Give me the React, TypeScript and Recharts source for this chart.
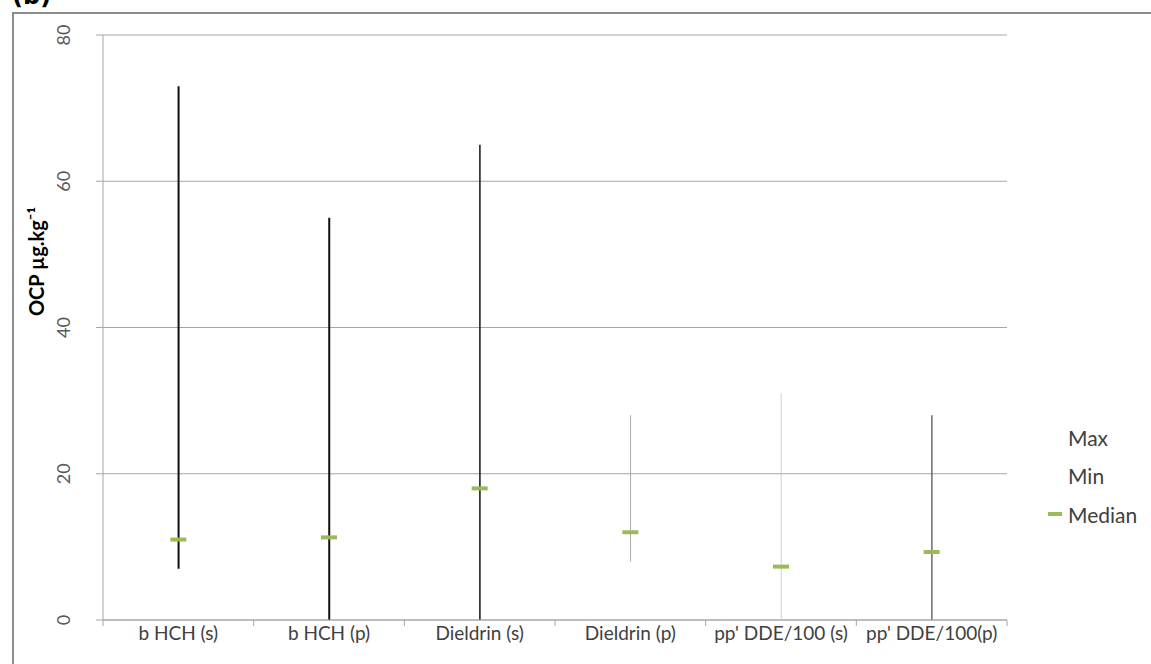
import React from "react"
import {
  Bar,
  CartesianGrid,
  ComposedChart,
  Legend,
  Line,
  XAxis,
  YAxis,
} from "recharts"

const categories = [
  "b HCH (s)",
  "b HCH (p)",
  "Dieldrin (s)",
  "Dieldrin (p)",
  "pp' DDE/100 (s)",
  "pp' DDE/100(p)",
]
const maxValues = [73, 55, 65, 28, 31, 28]
const minValues = [7, 0, 0, 8, 0, 0]
const medianValues = [11, 11.3, 18, 12, 7.3, 9.3]
const yTicks = [0, 20, 40, 60, 80]
const legendNames = ["Max", "Min", "Median"]

// the range lines in the picture are not all drawn the same
const lineColors = ["#111", "#111", "#222", "#aaa", "#cfcfcf", "#555"]
const lineWidths = [2, 2, 1.6, 1, 1, 1.3]

const data = categories.map((name, i) => ({
  name,
  max: maxValues[i],
  min: minValues[i],
  median: medianValues[i],
}))

const FONT = "Lato, 'Open Sans', sans-serif"
const GREEN = "#9bbb59"
const AXIS = "#a6a6a6"

const W = 1151
const H = 664
const margin = { top: 35, right: 144, bottom: 14, left: 43 }
const yAxisWidth = 60
const band = (W - margin.left - margin.right - yAxisWidth) / categories.length

function RangeLine(props: any) {
  const { x, y, width, height, index } = props
  const cx = x + width / 2
  return (
    <line
      x1={cx}
      x2={cx}
      y1={y}
      y2={y + height}
      stroke={lineColors[index]}
      strokeWidth={lineWidths[index]}
    />
  )
}

function MedianDash(props: any) {
  const { cx, cy, index } = props
  if (cx == null || cy == null) return null
  return <rect key={index} x={cx - 8} y={cy - 2} width={16} height={4} fill={GREEN} />
}

function YTick(props: any) {
  const { y, payload } = props
  return (
    <text
      x={0}
      y={0}
      transform={`translate(63,${y}) rotate(-90)`}
      textAnchor="middle"
      dominantBaseline="central"
      fill="#595959"
      fontSize={18}
      fontFamily={FONT}
    >
      {payload.value}
    </text>
  )
}

// ticks sit between categories, like Excel does it
function XTick(props: any) {
  const { x, payload, index } = props
  const axisY = H - margin.bottom - 30
  const last = index === categories.length - 1
  return (
    <g>
      <line x1={x - band / 2} x2={x - band / 2} y1={axisY} y2={axisY + 6} stroke={AXIS} />
      {last && (
        <line x1={x + band / 2} x2={x + band / 2} y1={axisY} y2={axisY + 6} stroke={AXIS} />
      )}
      <text
        x={x}
        y={axisY + 20}
        textAnchor="middle"
        fill="#404040"
        fontSize={19}
        fontFamily={FONT}
      >
        {payload.value}
      </text>
    </g>
  )
}

function LegendBox() {
  return (
    <div style={{ fontFamily: FONT, fontSize: 21, color: "#404040" }}>
      {legendNames.map((n) => (
        <div key={n} style={{ height: 38.5, display: "flex", alignItems: "center" }}>
          <span
            style={{
              display: "inline-block",
              width: 14,
              height: 4,
              marginRight: 6,
              background: n === "Median" ? GREEN : "transparent",
            }}
          />
          {n}
        </div>
      ))}
    </div>
  )
}

export default function App() {
  return (
    <div
      style={{
        position: "absolute",
        left: 0,
        top: 0,
        width: W,
        height: H,
        overflow: "hidden",
        background: "#fff",
      }}
    >
      <div
        style={{
          position: "absolute",
          left: 12,
          top: 12,
          width: 1200,
          height: 700,
          borderLeft: "2px solid #8c8c8c",
          borderTop: "2px solid #8c8c8c",
        }}
      />
      <div
        style={{
          position: "absolute",
          left: 12,
          top: -18,
          fontFamily: "'DejaVu Sans', sans-serif",
          fontWeight: "bold",
          fontSize: 24,
          color: "#000",
        }}
      >
        (b)
      </div>
      <div style={{ position: "absolute", left: 0, top: 0 }}>
        <ComposedChart width={W} height={H} data={data} margin={margin}>
          <CartesianGrid vertical={false} stroke={AXIS} />
          <XAxis
            dataKey="name"
            height={30}
            stroke={AXIS}
            tickLine={false}
            tick={<XTick />}
            interval={0}
          />
          <YAxis
            domain={[0, 80]}
            ticks={yTicks}
            width={yAxisWidth}
            stroke={AXIS}
            tickSize={7}
            tick={<YTick />}
            label={{
              value: "OCP µg.kg⁻¹",
              angle: -90,
              position: "insideLeft",
              offset: -6,
              dy: -66,
              style: {
                fontFamily: FONT,
                fontWeight: "bold",
                fontSize: 20,
                fill: "#000",
                textAnchor: "middle",
              },
            }}
          />
          <Bar
            dataKey={(d: any) => [d.min, d.max]}
            shape={<RangeLine />}
            isAnimationActive={false}
            legendType="none"
          />
          <Line
            dataKey="median"
            stroke="none"
            dot={<MedianDash />}
            activeDot={false}
            isAnimationActive={false}
          />
          <Legend
            layout="horizontal"
            verticalAlign="middle"
            align="center"
            wrapperStyle={{ position: "absolute", left: 1048, top: 418, width: 110 }}
            content={<LegendBox />}
          />
        </ComposedChart>
      </div>
    </div>
  )
}
